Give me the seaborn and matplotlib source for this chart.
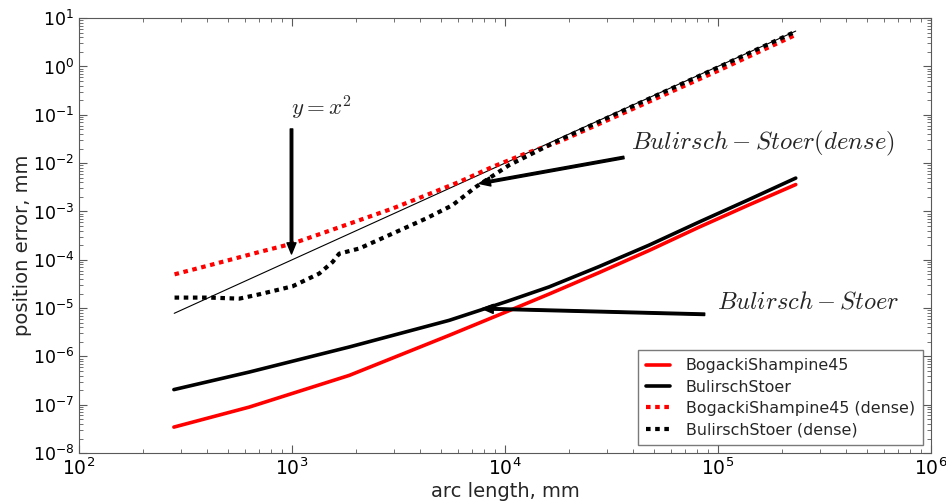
import matplotlib
matplotlib.use("Agg")
import matplotlib.pyplot as plt
import matplotlib.ticker as mticker
import seaborn as sns

# solid curves (arc length in mm, position error in mm)
arc_len = [279, 630, 1860, 5470, 10100, 16100, 27600, 47400, 81300, 139000, 232000]
err_bs45 = [3.45e-8, 8.95e-8, 4.06e-7, 2.73e-6, 8.3e-6, 1.95e-5, 5.4e-5, 1.55e-4, 4.7e-4, 1.35e-3, 3.6e-3]
err_bs = [2.06e-7, 4.75e-7, 1.57e-6, 5.58e-6, 1.35e-5, 2.74e-5, 7.2e-5, 2.0e-4, 6.0e-4, 1.74e-3, 4.9e-3]

# dense output curves
arc_len_bs45_dense = [281, 410, 703, 1007, 1445, 2070, 2965, 4256, 6095, 8730, 12500, 17900, 39800, 100000, 230000]
err_bs45_dense = [5.0e-5, 7.7e-5, 1.45e-4, 2.17e-4, 3.77e-4, 6.58e-4, 1.15e-3, 2.16e-3, 4.08e-3, 8.34e-3,
                  1.58e-2, 2.75e-2, 0.132, 0.813, 4.44]
arc_len_bs_dense = [281, 410, 566, 703, 1007, 1343, 1552, 1667, 2070, 2965, 4256, 5662, 7295, 10450, 17900,
                    39800, 100000, 230000]
err_bs_dense = [1.65e-5, 1.65e-5, 1.57e-5, 1.93e-5, 2.83e-5, 5.19e-5, 9.0e-5, 1.34e-4, 1.71e-4, 3.48e-4,
                7.13e-4, 1.34e-3, 3.21e-3, 9.06e-3, 2.98e-2, 0.151, 0.955, 5.2]

# thin y = x^2 reference line
ref_x = [280, 232000]
ref_y = [7.8e-6, 5.4]

sns.set_style("ticks", {"xtick.direction": "in", "ytick.direction": "in",
                        "axes.edgecolor": "0.35", "xtick.color": "0.35", "ytick.color": "0.35"})
plt.rcParams["font.family"] = ["DejaVu Sans"]
plt.rcParams["axes.unicode_minus"] = False

fig, ax = plt.subplots(figsize=(9.46, 5.04), dpi=100)
fig.subplots_adjust(left=0.0835, right=0.984, bottom=0.101, top=0.964)

sns.lineplot(x=ref_x, y=ref_y, color="black", lw=0.8, ax=ax)
sns.lineplot(x=arc_len, y=err_bs45, color="red", lw=2.6, label="BogackiShampine45", ax=ax)
sns.lineplot(x=arc_len, y=err_bs, color="black", lw=2.6, label="BulirschStoer", ax=ax)
sns.lineplot(x=arc_len_bs45_dense, y=err_bs45_dense, color="red", lw=3, linestyle=(0, (1.1, 1.1)),
             label="BogackiShampine45 (dense)", ax=ax)
sns.lineplot(x=arc_len_bs_dense, y=err_bs_dense, color="black", lw=3, linestyle=(0, (1.1, 1.1)),
             label="BulirschStoer (dense)", ax=ax)

ax.set_xscale("log")
ax.set_yscale("log")
ax.set_xlim(1e2, 1e6)
ax.set_ylim(1e-8, 1e1)
ax.yaxis.set_major_locator(mticker.LogLocator(base=10, numticks=15))
ax.yaxis.set_minor_locator(mticker.LogLocator(base=10, subs=range(2, 10), numticks=15))
ax.tick_params(which="both", top=True, right=True, labelcolor="black")
ax.tick_params(axis="x", labelsize=13.5)
ax.tick_params(axis="y", labelsize=12.5)
ax.tick_params(which="major", length=6, width=0.8)
ax.tick_params(which="minor", length=3, width=0.6)
ax.set_xlabel("arc length, mm", fontsize=14, labelpad=2)
ax.set_ylabel("position error, mm", fontsize=14)
ax.yaxis.set_label_coords(-0.055, 0.478)

arrow = dict(facecolor="black", edgecolor="black", width=1.8, headwidth=6.5, headlength=8, shrink=0)
ax.annotate("", xy=(995, 1.32e-4), xytext=(995, 5.1e-2), arrowprops=arrow)
ax.annotate("", xy=(7570, 3.79e-3), xytext=(36200, 1.31e-2), arrowprops=arrow)
ax.annotate("", xy=(7820, 9.77e-6), xytext=(86700, 7.45e-6), arrowprops=arrow)

ax.text(990, 0.098, r"$y=x^2$", fontsize=16.5, math_fontfamily="cm", va="baseline")
ax.text(39000, 0.0194, r"$Bulirsch-Stoer(dense)$", fontsize=17.8, math_fontfamily="cm", va="baseline")
ax.text(98900, 9.9e-6, r"$Bulirsch-Stoer$", fontsize=17.6, math_fontfamily="cm", va="baseline")

leg = ax.legend(loc="lower right", fontsize=11.4, fancybox=False, handlelength=1.5,
                handletextpad=1.0, labelspacing=0.4, borderpad=0.5)
leg.get_frame().set_edgecolor("0.35")

fig.savefig("out.png", dpi=100)
